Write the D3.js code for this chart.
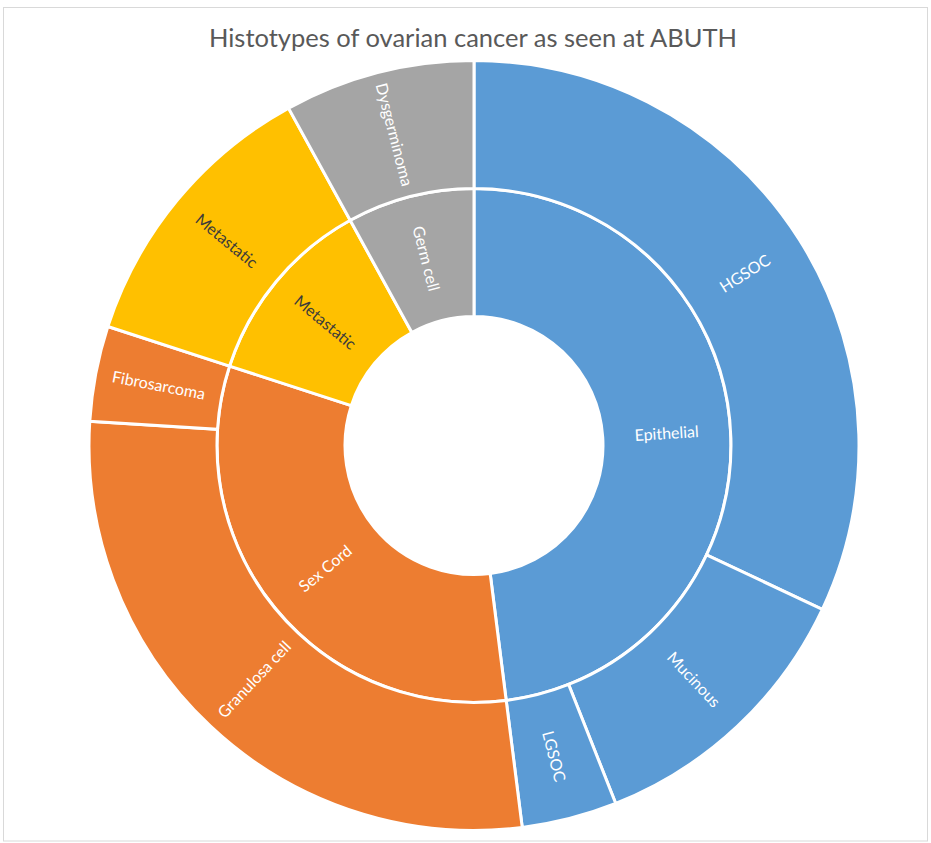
<!DOCTYPE html>
<meta charset="utf-8">
<head>
  <title>Histotypes of ovarian cancer</title>
</head>
<style>
  body { margin: 0; background: #fff; }
  .title { font: 25.5px Lato; fill: #595959; text-anchor: middle; }
  .label { font: 16px Lato; text-anchor: middle; }
</style>
<body>
<script src="https://cdn.jsdelivr.net/npm/d3@7"></script>
<script>
// categories (inner ring) and histotypes (outer ring)
var groups = ["Epithelial", "Sex Cord", "Metastatic", "Germ cell"];
var groupColors = ["#5b9bd5", "#ed7d31", "#ffc000", "#a5a5a5"];
var groupText = ["#ffffff", "#ffffff", "#3b3b3b", "#ffffff"];

var subtypes = ["HGSOC", "Mucinous", "LGSOC", "Granulosa cell", "Fibrosarcoma", "Metastatic", "Dysgerminoma"];
var subtypeGroup = ["Epithelial", "Epithelial", "Epithelial", "Sex Cord", "Sex Cord", "Metastatic", "Germ cell"];
var counts = [8, 3, 1, 7, 1, 3, 2];

var width = 931, height = 843;
var cx = 474, cy = 445.5;

var svg = d3.select("body").append("svg")
    .attr("width", width)
    .attr("height", height);

// chart border
svg.append("rect")
    .attr("x", 3.5).attr("y", 7.5)
    .attr("width", 924).attr("height", 833.5)
    .attr("fill", "none")
    .attr("stroke", "#d9d9d9");

svg.append("text")
    .attr("class", "title")
    .attr("x", 473).attr("y", 47)
    .text("Histotypes of ovarian cancer as seen at ABUTH");

// build hierarchy
var tree = {
  name: "root",
  children: groups.map(function(g) {
    return {
      name: g,
      children: subtypes
        .map(function(s, i) { return {name: s, value: counts[i], group: subtypeGroup[i]}; })
        .filter(function(d) { return d.group === g; })
    };
  })
};

var root = d3.hierarchy(tree).sum(function(d) { return d.value || 0; });
d3.partition().size([2 * Math.PI, 3])(root);

// depth -> radius
var r = d3.scaleLinear().domain([1, 2, 3]).range([129, 257, 385]);

var arc = d3.arc()
    .startAngle(function(d) { return d.x0; })
    .endAngle(function(d) { return d.x1; })
    .innerRadius(function(d) { return r(d.y0); })
    .outerRadius(function(d) { return r(d.y1); });

var g = svg.append("g").attr("transform", "translate(" + cx + "," + cy + ")");

function topGroup(d) {
  return d.depth === 1 ? d.data.name : d.parent.data.name;
}

var nodes = root.descendants().filter(function(d) { return d.depth > 0; });

g.selectAll("path")
    .data(nodes)
  .enter().append("path")
    .attr("d", arc)
    .attr("fill", function(d) { return groupColors[groups.indexOf(topGroup(d))]; })
    .attr("stroke", "#fff")
    .attr("stroke-width", 3);

g.selectAll(".label")
    .data(nodes)
  .enter().append("text")
    .attr("class", "label")
    .attr("transform", function(d) {
      var a = (d.x0 + d.x1) / 2 * 180 / Math.PI;
      var rad = (r(d.y0) + r(d.y1)) / 2;
      var rot = a < 180 ? a - 90 : a - 270;
      return "rotate(" + (a - 90) + ") translate(" + rad + ",0) rotate(" + (rot - (a - 90)) + ")";
    })
    .attr("dy", "0.35em")
    .attr("fill", function(d) { return groupText[groups.indexOf(topGroup(d))]; })
    .text(function(d) { return d.data.name; });
</script>
</body>
